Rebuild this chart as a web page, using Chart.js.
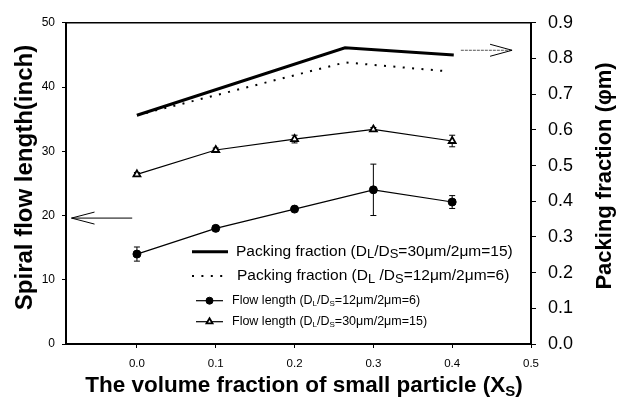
<!DOCTYPE html>
<html>
<head>
<meta charset="utf-8">
<script src="https://cdn.jsdelivr.net/npm/chart.js@4.4.0/dist/chart.umd.min.js"></script>
<style>
  html, body { margin: 0; padding: 0; background: #fff; }
  #chart { display: block; }
</style>
</head>
<body>
<canvas id="chart" width="626" height="398"></canvas>
<script>
// values
const fractionX = [0.0, 0.1, 0.2, 0.3, 0.4];
const flowLength6 = [14.0, 18.0, 21.0, 24.0, 22.1];
const flowErr6 = [1.1, 0.4, 0.3, 4.0, 1.0];
const flowLength15 = [26.4, 30.2, 31.9, 33.4, 31.6];
const flowErr15 = [0.3, 0.3, 0.6, 0.3, 0.9];
const packingX15 = [0.0, 0.264, 0.402];
const packing15 = [0.641, 0.830, 0.810];
const packingX6 = [0.0, 0.264, 0.395];
const packing6 = [0.641, 0.789, 0.764];
const xTicks = [0.0, 0.1, 0.2, 0.3, 0.4, 0.5];

// legend text, odd entries are subscripts
const legendPacking15 = ['Packing fraction (D', 'L', '/D', 'S', '=30\u03bcm/2\u03bcm=15)'];
const legendPacking6 = ['Packing fraction (D', 'L', ' /D', 'S', '=12\u03bcm/2\u03bcm=6)'];
const legendFlow6 = ['Flow length (D', 'L', '/D', 'S', '=12\u03bcm/2\u03bcm=6)'];
const legendFlow15 = ['Flow length (D', 'L', '/D', 'S', '=30\u03bcm/2\u03bcm=15)'];

const FONT = '"Liberation Sans", Arial, sans-serif';

const pts = (xs, ys) => xs.map((x, i) => ({ x: x, y: ys[i] }));

function drawRich(ctx, parts, x, y, weight, size, subSize, subDrop) {
    let cx = x;
    parts.forEach((t, i) => {
        const sub = i % 2 === 1;
        ctx.font = weight + ' ' + (sub ? subSize : size) + 'px ' + FONT;
        ctx.fillText(t, cx, sub ? y + subDrop : y);
        cx += ctx.measureText(t).width;
    });
    return cx - x;
}

function richWidth(ctx, parts, weight, size, subSize) {
    let w = 0;
    parts.forEach((t, i) => {
        ctx.font = weight + ' ' + (i % 2 === 1 ? subSize : size) + 'px ' + FONT;
        w += ctx.measureText(t).width;
    });
    return w;
}

const frameAndErrors = {
    id: 'frameAndErrors',
    beforeDatasetsDraw(chart) {
        const ctx = chart.ctx;
        const a = chart.chartArea;
        ctx.save();
        ctx.strokeStyle = '#000';
        ctx.lineWidth = 1.5;
        ctx.beginPath();
        ctx.moveTo(a.left, a.top);
        ctx.lineTo(a.right, a.top);
        ctx.stroke();

        // error bars
        const xs = chart.scales.x, ys = chart.scales.y;
        ctx.lineWidth = 1;
        chart.data.datasets.forEach(ds => {
            if (!ds.errors) return;
            ds.errors.forEach((e, i) => {
                const px = xs.getPixelForValue(fractionX[i]);
                const v = ds.data[i].y;
                const t = ys.getPixelForValue(v + e);
                const b = ys.getPixelForValue(v - e);
                ctx.beginPath();
                ctx.moveTo(px, t); ctx.lineTo(px, b);
                ctx.moveTo(px - 3, t); ctx.lineTo(px + 3, t);
                ctx.moveTo(px - 3, b); ctx.lineTo(px + 3, b);
                ctx.stroke();
            });
        });
        ctx.restore();
    }
};

const annotations = {
    id: 'annotations',
    afterDraw(chart) {
        const ctx = chart.ctx;
        const xs = chart.scales.x, ys = chart.scales.y, y2 = chart.scales.y2;
        ctx.save();
        ctx.fillStyle = '#000';
        ctx.strokeStyle = '#000';

        // arrow pointing to the left axis
        let ay = ys.getPixelForValue(19.6);
        let x0 = xs.getPixelForValue(-0.006), x1 = xs.getPixelForValue(-0.083);
        ctx.lineWidth = 1;
        ctx.beginPath();
        ctx.moveTo(x0, ay); ctx.lineTo(x1, ay);
        ctx.moveTo(x1 + 23, ay - 6); ctx.lineTo(x1, ay); ctx.lineTo(x1 + 23, ay + 6);
        ctx.stroke();

        // arrow pointing to the right axis
        ay = y2.getPixelForValue(0.823);
        x0 = xs.getPixelForValue(0.411); x1 = xs.getPixelForValue(0.476);
        ctx.strokeStyle = '#555';
        ctx.setLineDash([3, 1]);
        ctx.beginPath();
        ctx.moveTo(x0, ay); ctx.lineTo(x1, ay);
        ctx.stroke();
        ctx.setLineDash([]);
        ctx.strokeStyle = '#000';
        ctx.beginPath();
        ctx.moveTo(x1 - 22, ay - 6); ctx.lineTo(x1, ay); ctx.lineTo(x1 - 22, ay + 6);
        ctx.stroke();

        // legend
        const rows = [
            { ds: 0, parts: legendPacking15, y: 251.7, size: 15.5, sub: 13, drop: 3, tx: 236 },
            { ds: 1, parts: legendPacking6, y: 276, size: 15.5, sub: 13, drop: 3, tx: 237 },
            { ds: 2, parts: legendFlow6, y: 300.7, size: 12.5, sub: 8, drop: 3, tx: 232 },
            { ds: 3, parts: legendFlow15, y: 321.7, size: 12.5, sub: 8, drop: 3, tx: 232 }
        ];
        ctx.textBaseline = 'middle';
        ctx.textAlign = 'left';
        rows.forEach(r => {
            const ds = chart.data.datasets[r.ds];
            const isPacking = r.ds < 2;
            const lx0 = isPacking ? 192 : 196, lx1 = isPacking ? 228 : 223;
            ctx.strokeStyle = '#000';
            ctx.lineWidth = ds.borderWidth;
            ctx.setLineDash(ds.borderDash || []);
            ctx.beginPath();
            ctx.moveTo(lx0, r.y); ctx.lineTo(lx1, r.y);
            ctx.stroke();
            ctx.setLineDash([]);
            if (!isPacking) {
                ctx.fillStyle = ds.pointBackgroundColor;
                ctx.lineWidth = ds.pointBorderWidth;
                Chart.helpers.drawPoint(ctx, {
                    pointStyle: ds.pointStyle, radius: 3.5,
                    borderWidth: ds.pointBorderWidth, rotation: 0
                }, (lx0 + lx1) / 2, r.y);
            }
            ctx.fillStyle = '#000';
            drawRich(ctx, r.parts, r.tx, r.y, 'normal', r.size, r.sub, r.drop);
        });

        // axis titles
        ctx.textBaseline = 'alphabetic';
        ctx.textAlign = 'center';
        ctx.font = 'bold 24px ' + FONT;
        ctx.save();
        ctx.translate(32, 177.5);
        ctx.rotate(-Math.PI / 2);
        ctx.fillText('Spiral flow length(inch)', 0, 0);
        ctx.restore();

        ctx.font = 'bold 22px ' + FONT;
        ctx.save();
        ctx.translate(611, 176);
        ctx.rotate(-Math.PI / 2);
        ctx.fillText('Packing fraction (\u03c6m)', 0, 0);
        ctx.restore();

        ctx.textAlign = 'left';
        const bottomTitle = ['The volume fraction of small particle (X', 'S', ')'];
        const w = richWidth(ctx, bottomTitle, 'bold', 22.5, 15);
        drawRich(ctx, bottomTitle, 304 - w / 2, 392, 'bold', 22.5, 15, 4);
        ctx.restore();
    }
};

new Chart(document.getElementById('chart'), {
    type: 'line',
    data: {
        datasets: [
            {
                label: 'Packing fraction (DL/DS=30\u03bcm/2\u03bcm=15)',
                data: pts(packingX15, packing15),
                yAxisID: 'y2',
                borderColor: '#000',
                borderWidth: 3,
                pointRadius: 0
            },
            {
                label: 'Packing fraction (DL/DS=12\u03bcm/2\u03bcm=6)',
                data: pts(packingX6, packing6),
                yAxisID: 'y2',
                borderColor: '#000',
                borderWidth: 2,
                borderDash: [2, 7.4],
                pointRadius: 0
            },
            {
                label: 'Flow length (DL/DS=12\u03bcm/2\u03bcm=6)',
                data: pts(fractionX, flowLength6),
                errors: flowErr6,
                yAxisID: 'y',
                borderColor: '#000',
                borderWidth: 1.2,
                pointStyle: 'circle',
                pointRadius: 4,
                pointBorderWidth: 1,
                pointBackgroundColor: '#000',
                pointBorderColor: '#000'
            },
            {
                label: 'Flow length (DL/DS=30\u03bcm/2\u03bcm=15)',
                data: pts(fractionX, flowLength15),
                errors: flowErr15,
                yAxisID: 'y',
                borderColor: '#000',
                borderWidth: 1.2,
                pointStyle: 'triangle',
                pointRadius: 4,
                pointBorderWidth: 1.8,
                pointBackgroundColor: '#fff',
                pointBorderColor: '#000'
            }
        ]
    },
    options: {
        responsive: false,
        animation: false,
        layout: { padding: { top: 18, left: 0, right: 0, bottom: 0 } },
        elements: { line: { tension: 0 } },
        plugins: {
            legend: { display: false },
            tooltip: { enabled: false }
        },
        scales: {
            x: {
                type: 'linear',
                min: -0.09,
                max: 0.5,
                afterBuildTicks: s => { s.ticks = xTicks.map(v => ({ value: v })); },
                afterFit: s => { s.height = 54; },
                ticks: {
                    color: '#000',
                    font: { family: FONT, size: 11.5 },
                    padding: 9,
                    maxRotation: 0,
                    callback: v => Number(v).toFixed(1)
                },
                grid: { drawOnChartArea: false, tickLength: 4, color: '#000', lineWidth: 1 },
                border: { color: '#000', width: 2 }
            },
            y: {
                position: 'left',
                min: 0,
                max: 50,
                afterFit: s => { s.width = 66; },
                ticks: {
                    stepSize: 10,
                    color: '#000',
                    font: { family: FONT, size: 12 },
                    padding: 7
                },
                grid: { drawOnChartArea: false, tickLength: 4, color: '#000', lineWidth: 1 },
                border: { color: '#000', width: 2 }
            },
            y2: {
                position: 'right',
                min: 0,
                max: 0.9,
                afterFit: s => { s.width = 95; },
                ticks: {
                    stepSize: 0.1,
                    color: '#000',
                    font: { family: FONT, size: 18 },
                    padding: 12,
                    callback: v => Number(v).toFixed(1)
                },
                grid: { drawOnChartArea: false, tickLength: 5, color: '#000', lineWidth: 1 },
                border: { color: '#000', width: 2 }
            }
        }
    },
    plugins: [frameAndErrors, annotations]
});
</script>
</body>
</html>
